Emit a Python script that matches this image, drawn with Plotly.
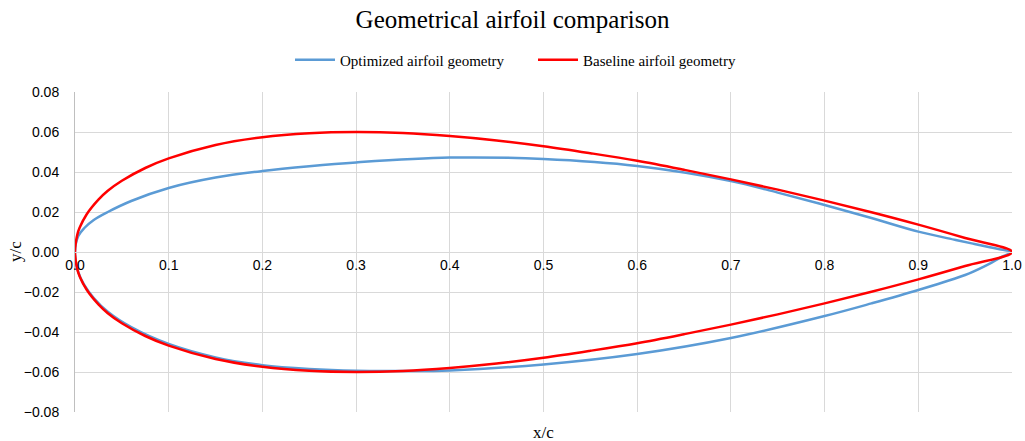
import plotly.graph_objects as go

# Baseline airfoil (symmetric section)
base_x = [1.0, 0.95, 0.9, 0.85, 0.8, 0.75, 0.7, 0.65, 0.6, 0.55, 0.5, 0.45, 0.4, 0.35, 0.3, 0.25, 0.2, 0.15, 0.1, 0.075, 0.05, 0.035, 0.025, 0.0125, 0.005, 0.0025, 0.0,
          0.0025, 0.005, 0.0125, 0.025, 0.035, 0.05, 0.075, 0.1, 0.15, 0.2, 0.25, 0.3, 0.35, 0.4, 0.45, 0.5, 0.55, 0.6, 0.65, 0.7, 0.75, 0.8, 0.85, 0.9, 0.95, 1.0]
base_y = [0.0, 0.0070, 0.0137, 0.0199, 0.0257, 0.0312, 0.0363, 0.0411, 0.0456, 0.0494, 0.0529, 0.0558, 0.0580, 0.0595, 0.0600, 0.0594, 0.0574, 0.0535, 0.0468, 0.0420, 0.0356, 0.0306, 0.0262, 0.0189, 0.0122, 0.0087, 0.0,
          -0.0087, -0.0122, -0.0189, -0.0262, -0.0306, -0.0356, -0.0420, -0.0468, -0.0535, -0.0574, -0.0594, -0.0600, -0.0595, -0.0580, -0.0558, -0.0529, -0.0494, -0.0456, -0.0411, -0.0363, -0.0312, -0.0257, -0.0199, -0.0137, -0.0070, 0.0]

# Optimized airfoil
opt_x = [1.0, 0.99, 0.975, 0.96, 0.94, 0.9, 0.85, 0.8, 0.75, 0.7, 0.6, 0.5, 0.4, 0.3, 0.25, 0.2, 0.15, 0.1, 0.06, 0.035, 0.02, 0.01, 0.0035, 0.0,
         0.0035, 0.01, 0.02, 0.035, 0.06, 0.1, 0.15, 0.2, 0.25, 0.3, 0.35, 0.4, 0.5, 0.6, 0.7, 0.8, 0.85, 0.9, 0.95, 0.97, 0.99, 1.0]
opt_y = [0.0, 0.0011, 0.0025, 0.0040, 0.0060, 0.0102, 0.0170, 0.0235, 0.0297, 0.0355, 0.0430, 0.0465, 0.0472, 0.0448, 0.0429, 0.0405, 0.0372, 0.0320, 0.0255, 0.0200, 0.0160, 0.0120, 0.0080, 0.0,
         -0.0100, -0.0166, -0.0230, -0.0299, -0.0376, -0.0460, -0.0527, -0.0566, -0.0585, -0.0594, -0.0595, -0.0592, -0.0562, -0.0510, -0.0430, -0.0320, -0.0257, -0.0190, -0.0115, -0.0073, -0.0022, 0.0]

x_ticks = [0.0, 0.1, 0.2, 0.3, 0.4, 0.5, 0.6, 0.7, 0.8, 0.9, 1.0]
y_ticks = [0.08, 0.06, 0.04, 0.02, 0.0, -0.02, -0.04, -0.06, -0.08]

fig = go.Figure()
fig.add_trace(go.Scatter(x=opt_x, y=opt_y, mode="lines", name="Optimized airfoil geometry",
                         line=dict(color="#5B9BD5", width=2.5, shape="spline", smoothing=1.0)))
fig.add_trace(go.Scatter(x=base_x, y=base_y, mode="lines", name="Baseline airfoil geometry",
                         line=dict(color="#FF0000", width=2.5, shape="spline", smoothing=1.0)))

grid = "#D9D9D9"
L, R, T, B = 75, 13, 92, 29
W, H = 1025, 441
plot_w = W - L - R
plot_h = H - T - B

fig.update_layout(
    width=W, height=H,
    margin=dict(l=L, r=R, t=T, b=B, autoexpand=False),
    paper_bgcolor="white", plot_bgcolor="white",
    title=dict(text="Geometrical airfoil comparison", x=0.5, xanchor="center", y=1 - 19 / H, yanchor="middle",
               font=dict(family="Liberation Serif", size=25, color="#000000")),
    legend=dict(orientation="h", x=(290 - L) / plot_w, xanchor="left", y=1 + 32 / plot_h, yanchor="middle",
                font=dict(family="Liberation Serif", size=15, color="#000000"), itemwidth=40,
                entrywidth=188, entrywidthmode="pixels"),
    showlegend=True,
    xaxis=dict(range=[0, 1.0], tickvals=x_ticks, tickformat=".1f", showgrid=True, gridcolor=grid, gridwidth=1,
               anchor="free", position=0.5, showline=True, linecolor=grid, linewidth=1, zeroline=False,
               automargin=False,
               ticks="", tickfont=dict(family="Liberation Sans", size=14, color="#000000")),
    yaxis=dict(range=[-0.08, 0.08], tickvals=y_ticks, tickformat=".2f", showgrid=True, gridcolor=grid, gridwidth=1,
               showline=True, linecolor="#BFBFBF", linewidth=1, zeroline=False, ticks="", ticklabelstandoff=12,
               automargin=False,
               tickfont=dict(family="Liberation Sans", size=14, color="#000000")),
    annotations=[
        dict(text="x/c", x=0.5, xref="paper", y=(H - B - 432) / plot_h, yref="paper", yanchor="middle",
             showarrow=False, font=dict(family="Liberation Serif", size=17, color="#000000")),
        dict(text="y/c", x=(15 - L) / plot_w, xanchor="center", y=0, xref="paper", yref="y", showarrow=False,
             textangle=-90, font=dict(family="Liberation Serif", size=17, color="#000000")),
    ],
)

fig.write_html("out.html")
